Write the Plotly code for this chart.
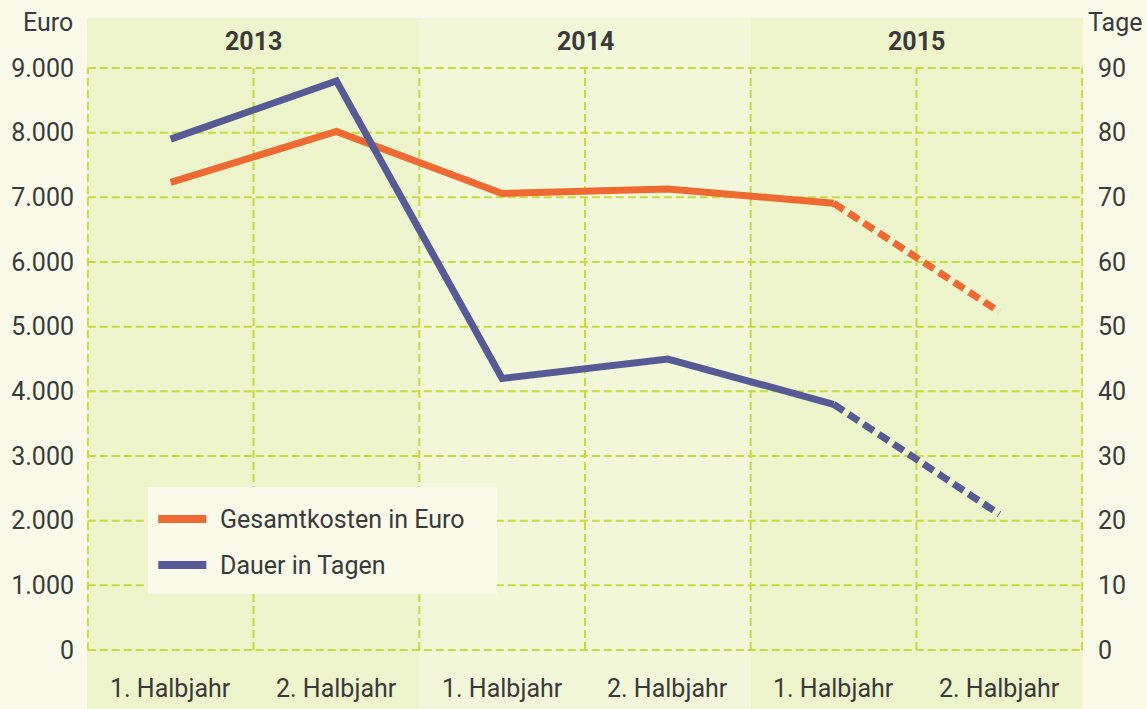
import plotly.graph_objects as go

# ---- data ----
years = ["2013", "2014", "2015"]
halves = ["1. Halbjahr", "2. Halbjahr", "1. Halbjahr", "2. Halbjahr", "1. Halbjahr", "2. Halbjahr"]
kosten = [7230, 8020, 7060, 7130, 6910, 5230]   # Gesamtkosten in Euro
tage = [79, 88, 42, 45, 38, 21]                 # Dauer in Tagen
euro_ticks = [0, 1000, 2000, 3000, 4000, 5000, 6000, 7000, 8000, 9000]
euro_labels = ["0", "1.000", "2.000", "3.000", "4.000", "5.000", "6.000", "7.000", "8.000", "9.000"]
tage_ticks = [0, 10, 20, 30, 40, 50, 60, 70, 80, 90]
tage_labels = [str(v) for v in tage_ticks]

ORANGE = "#EE6A32"
BLUE = "#575B95"
PAGE = "#F9FAE9"
BAND_DARK = "#EEF4CB"
BAND_LIGHT = "#F3F7DA"
GRID = "#C6DC3C"
TXT = "#3A3A3A"
FONT = "Roboto"
FS = 25

xs = list(range(len(halves)))
YMIN, YMAX = -912, 9773
XMIN, XMAX = -0.505, 5.505

fig = go.Figure()
fig.add_trace(go.Scatter(x=xs[:5], y=kosten[:5], mode="lines",
                         line=dict(color=ORANGE, width=7), showlegend=False, hoverinfo="skip"))
fig.add_trace(go.Scatter(x=xs[4:], y=kosten[4:], mode="lines",
                         line=dict(color=ORANGE, width=7, dash="12px,6px"), showlegend=False, hoverinfo="skip"))
fig.add_trace(go.Scatter(x=xs[:5], y=tage[:5], mode="lines", yaxis="y2",
                         line=dict(color=BLUE, width=7), showlegend=False, hoverinfo="skip"))
fig.add_trace(go.Scatter(x=xs[4:], y=tage[4:], mode="lines", yaxis="y2",
                         line=dict(color=BLUE, width=7, dash="12px,6px"), showlegend=False, hoverinfo="skip"))

shapes = []
band_edges = [(XMIN, 1.5, BAND_DARK), (1.5, 3.5, BAND_LIGHT), (3.5, XMAX, BAND_DARK)]
for x0, x1, c in band_edges:
    shapes.append(dict(type="rect", xref="x", yref="paper", x0=x0, x1=x1, y0=0, y1=1,
                       fillcolor=c, line=dict(width=0), layer="below"))
for v in euro_ticks:
    shapes.append(dict(type="line", xref="x", yref="y", x0=-0.5, x1=5.5, y0=v, y1=v,
                       line=dict(color=GRID, width=2, dash="8px,4px"), layer="below"))
for i in range(len(halves) + 1):
    xv = i - 0.5
    shapes.append(dict(type="line", xref="x", yref="y", x0=xv, x1=xv, y0=0, y1=9000,
                       line=dict(color=GRID, width=2, dash="8px,4px"), layer="below"))
# legend box
shapes.append(dict(type="rect", xref="x", yref="y", x0=-0.138, x1=1.969, y0=866, y1=2520,
                   fillcolor=PAGE, line=dict(width=0), layer="below"))
shapes.append(dict(type="line", xref="x", yref="y", x0=-0.075, x1=0.215, y0=2026, y1=2026,
                   line=dict(color=ORANGE, width=8), layer="above"))
shapes.append(dict(type="line", xref="x", yref="y", x0=-0.075, x1=0.215, y0=1314, y1=1314,
                   line=dict(color=BLUE, width=8), layer="above"))

annotations = []
for i, y in enumerate(years):
    annotations.append(dict(x=2 * i + 0.5, y=9402, xref="x", yref="y", text="<b>" + y + "</b>",
                            showarrow=False, font=dict(family=FONT, size=FS, color=TXT)))
for i, h in enumerate(halves):
    annotations.append(dict(x=i, y=-588, xref="x", yref="y", text=h,
                            showarrow=False, font=dict(family=FONT, size=FS, color=TXT)))
annotations.append(dict(x=-0.012, y=0.994, xref="paper", yref="paper", text="Euro", xanchor="right",
                        yanchor="middle", showarrow=False, font=dict(family=FONT, size=FS, color=TXT)))
annotations.append(dict(x=1.061, y=0.994, xref="paper", yref="paper", text="Tage", xanchor="right",
                        yanchor="middle", showarrow=False, font=dict(family=FONT, size=FS, color=TXT)))
annotations.append(dict(x=0.285, y=2026, xref="x", yref="y", text="Gesamtkosten in Euro", xanchor="left",
                        yanchor="middle", showarrow=False, font=dict(family=FONT, size=FS, color=TXT)))
annotations.append(dict(x=0.285, y=1314, xref="x", yref="y", text="Dauer in Tagen", xanchor="left",
                        yanchor="middle", showarrow=False, font=dict(family=FONT, size=FS, color=TXT)))

fig.update_layout(
    width=1147, height=709,
    margin=dict(l=87, r=64, t=18, b=0),
    paper_bgcolor=PAGE, plot_bgcolor=PAGE,
    showlegend=False,
    shapes=shapes, annotations=annotations,
    font=dict(family=FONT, size=FS, color=TXT),
    xaxis=dict(range=[XMIN, XMAX], showgrid=False, zeroline=False, showticklabels=False,
               showline=False, fixedrange=True),
    yaxis=dict(range=[YMIN, YMAX], tickvals=euro_ticks, ticktext=euro_labels, showgrid=False,
               zeroline=False, showline=False, ticks="", ticklabelstandoff=12,
               tickfont=dict(family=FONT, size=FS, color=TXT)),
    yaxis2=dict(range=[YMIN / 100, YMAX / 100], tickvals=tage_ticks, ticktext=tage_labels,
                overlaying="y", side="right", showgrid=False, zeroline=False, showline=False,
                ticks="", ticklabelstandoff=14, tickfont=dict(family=FONT, size=FS, color=TXT)),
)

fig.write_html("out.html", config={"displayModeBar": False},
               post_script="document.body.style.margin='0px';document.body.style.overflow='hidden';"
                           "document.body.style.background='" + PAGE + "';")
